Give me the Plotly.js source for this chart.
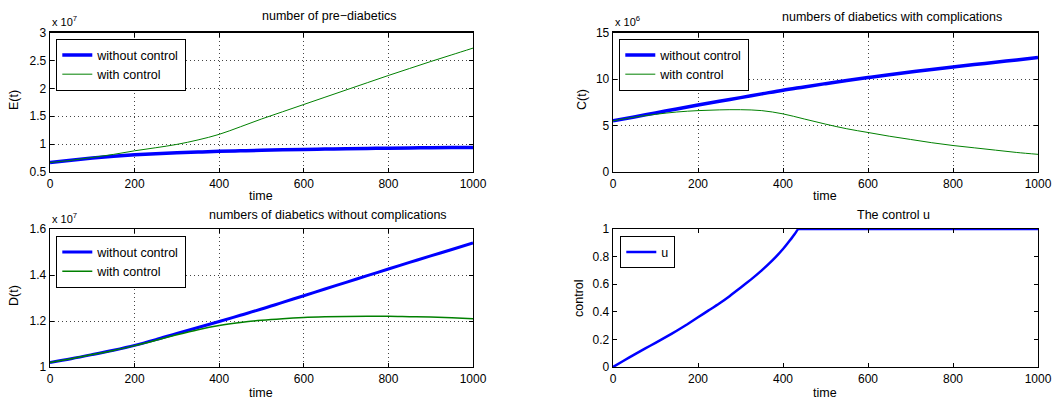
<!DOCTYPE html>
<html>
<head>
<meta charset="utf-8">
<script src="https://cdn.plot.ly/plotly-3.0.1.min.js"></script>
<style>html,body{margin:0;padding:0;background:#fff;}#plot{width:1057px;height:403px;}</style>
</head>
<body>
<div id="plot"></div>
<script>
// time grid (every 50)
const t = [0, 50, 100, 150, 200, 250, 300, 350, 400, 450, 500, 550, 600, 650, 700, 750, 800, 850, 900, 950, 1000];
// number of pre-diabetics E(t)
const E_without = [6.7e6, 7.12e6, 7.5e6, 7.82e6, 8.08e6, 8.29e6, 8.45e6, 8.58e6, 8.7e6, 8.8e6, 8.9e6, 8.98e6, 9.05e6, 9.11e6, 9.17e6, 9.22e6, 9.27e6, 9.31e6, 9.35e6, 9.38e6, 9.4e6];
const E_with    = [6.7e6, 7.1e6, 7.6e6, 8.15e6, 8.8e6, 9.35e6, 9.95e6, 10.75e6, 11.75e6, 13.1e6, 14.5e6, 15.8e6, 17.1e6, 18.4e6, 19.7e6, 21.0e6, 22.3e6, 23.55e6, 24.8e6, 26.0e6, 27.2e6];
// diabetics with complications C(t)
const C_without = [5.5e6, 5.92e6, 6.35e6, 6.78e6, 7.2e6, 7.6e6, 8.0e6, 8.4e6, 8.8e6, 9.15e6, 9.5e6, 9.83e6, 10.15e6, 10.45e6, 10.75e6, 11.03e6, 11.3e6, 11.55e6, 11.8e6, 12.05e6, 12.3e6];
const C_with    = [5.5e6, 5.9e6, 6.2e6, 6.45e6, 6.6e6, 6.68e6, 6.7e6, 6.6e6, 6.25e6, 5.7e6, 5.15e6, 4.65e6, 4.25e6, 3.85e6, 3.5e6, 3.15e6, 2.85e6, 2.6e6, 2.35e6, 2.1e6, 1.9e6];
// diabetics without complications D(t)
const D_without = [1.02e7, 1.036e7, 1.054e7, 1.073e7, 1.094e7, 1.119e7, 1.146e7, 1.172e7, 1.198e7, 1.225e7, 1.252e7, 1.281e7, 1.31e7, 1.339e7, 1.368e7, 1.397e7, 1.426e7, 1.455e7, 1.483e7, 1.511e7, 1.539e7];
const D_with    = [1.02e7, 1.036e7, 1.054e7, 1.072e7, 1.093e7, 1.116e7, 1.14e7, 1.162e7, 1.18e7, 1.193e7, 1.203e7, 1.21e7, 1.215e7, 1.218e7, 1.22e7, 1.221e7, 1.221e7, 1.219e7, 1.217e7, 1.214e7, 1.21e7];
// control u(t)
const tu = [0, 25, 50, 75, 100, 125, 150, 175, 200, 225, 250, 275, 300, 325, 350, 375, 400, 410, 420, 428, 436, 440, 500, 600, 700, 800, 900, 1000];
const u  = [0, 0.045, 0.09, 0.133, 0.175, 0.218, 0.263, 0.31, 0.36, 0.41, 0.46, 0.515, 0.575, 0.635, 0.7, 0.772, 0.855, 0.893, 0.932, 0.965, 1, 1, 1, 1, 1, 1, 1, 1];

// tick labels
const xTicks = [0, 200, 400, 600, 800, 1000];
const E_ticks = [0.5e7, 1e7, 1.5e7, 2e7, 2.5e7, 3e7];
const E_tickText = ['0.5', '1', '1.5', '2', '2.5', '3'];
const C_ticks = [0, 5e6, 10e6, 15e6];
const C_tickText = ['0', '5', '10', '15'];
const D_ticks = [1e7, 1.2e7, 1.4e7, 1.6e7];
const D_tickText = ['1', '1.2', '1.4', '1.6'];
const u_ticks = [0, 0.2, 0.4, 0.6, 0.8, 1];
const u_tickText = ['0', '0.2', '0.4', '0.6', '0.8', '1'];

const BLUE = '#0000ff', GREEN = '#008000';
const FONT = 'Liberation Sans, Arial, Helvetica, sans-serif';

function tr(x, y, name, color, w, xa, ya, leg, sm) {
  return {x: x, y: y, name: name, type: 'scatter', mode: 'lines',
    line: {color: color, width: w, shape: 'spline', smoothing: sm || 1},
    xaxis: xa, yaxis: ya, legend: leg};
}
const data = [
  tr(t, E_without, 'without control', BLUE, 3.5, 'x', 'y', 'legend'),
  tr(t, E_with, 'with control', GREEN, 1, 'x', 'y', 'legend'),
  tr(t, C_without, 'without control', BLUE, 3.5, 'x2', 'y2', 'legend2'),
  tr(t, C_with, 'with control', GREEN, 1, 'x2', 'y2', 'legend2'),
  tr(t, D_without, 'without control', BLUE, 3, 'x3', 'y3', 'legend3'),
  tr(t, D_with, 'with control', GREEN, 1.5, 'x3', 'y3', 'legend3'),
  tr(tu, u, 'u', BLUE, 2.5, 'x4', 'y4', 'legend4', 0.4)
];

const W = 1057, H = 403;
const dxL = [50 / W, 473 / W], dxR = [613 / W, 1038 / W];
const dyT = [1 - 172 / H, 1 - 32.5 / H], dyB = [1 - 367 / H, 1 - 229 / H];

function xax(dom, anchor, grid) {
  return {domain: dom, anchor: anchor, range: [0, 1000], tickvals: xTicks, ticktext: xTicks.map(String),
    showline: true, linecolor: '#000', linewidth: 1.3, mirror: 'ticks', ticks: 'inside', ticklen: 4,
    tickcolor: '#000', showgrid: grid, gridcolor: '#444', griddash: '1px,3px', gridwidth: 1,
    zeroline: false, tickfont: {size: 12, color: '#000', family: FONT}, fixedrange: true};
}
function yax(dom, anchor, range, tv, tt, grid) {
  return {domain: dom, anchor: anchor, range: range, tickvals: tv, ticktext: tt,
    showline: true, linecolor: '#000', linewidth: 1.3, mirror: 'ticks', ticks: 'inside', ticklen: 4,
    tickcolor: '#000', showgrid: grid, gridcolor: '#444', griddash: '1px,3px', gridwidth: 1,
    zeroline: false, tickfont: {size: 12, color: '#000', family: FONT}, fixedrange: true};
}
function legendAt(px, py) {
  return {x: px / W, y: 1 - py / H, xanchor: 'left', yanchor: 'top', bgcolor: '#fff',
    bordercolor: '#000', borderwidth: 1.3, font: {size: 12.5, color: '#000', family: FONT},
    tracegroupgap: 0, itemwidth: 30};
}
function ann(text, px, py, opts) {
  return Object.assign({text: text, x: px / W, y: 1 - py / H, xref: 'paper', yref: 'paper',
    xanchor: 'center', yanchor: 'middle',
    showarrow: false, font: {size: 12.5, color: '#000', family: FONT}}, opts || {});
}
const smallFont = {size: 11, color: '#000', family: FONT};

const annotations = [
  ann('number of pre\u2212diabetics', 329, 16),
  ann('numbers of diabetics with complications', 892, 17),
  ann('numbers of diabetics without complications', 328, 215),
  ann('The control u', 893, 215),
  ann('x 10<sup>7</sup>', 50, 21, {xanchor: 'left', font: smallFont}),
  ann('x 10<sup>6</sup>', 613, 21, {xanchor: 'left', font: smallFont}),
  ann('x 10<sup>7</sup>', 50, 218, {xanchor: 'left', font: smallFont}),
  ann('E(t)', 14, 100, {textangle: -90}),
  ann('C(t)', 582, 100, {textangle: -90}),
  ann('D(t)', 14, 296, {textangle: -90}),
  ann('control', 579, 298, {textangle: -90}),
  ann('time', 261, 196),
  ann('time', 825, 196),
  ann('time', 261, 393),
  ann('time', 825, 393)
];

const layout = {
  width: W, height: H, margin: {l: 0, r: 0, t: 0, b: 0},
  paper_bgcolor: '#fff', plot_bgcolor: '#fff',
  font: {family: FONT, color: '#000'},
  xaxis: xax(dxL, 'y', true), yaxis: yax(dyT, 'x', [0.5e7, 3e7], E_ticks, E_tickText, true),
  xaxis2: xax(dxR, 'y2', true), yaxis2: yax(dyT, 'x2', [0, 15e6], C_ticks, C_tickText, true),
  xaxis3: xax(dxL, 'y3', true), yaxis3: yax(dyB, 'x3', [1e7, 1.6e7], D_ticks, D_tickText, true),
  xaxis4: xax(dxR, 'y4', false), yaxis4: yax(dyB, 'x4', [0, 1], u_ticks, u_tickText, false),
  legend: legendAt(56, 39), legend2: legendAt(619, 39), legend3: legendAt(56, 236), legend4: legendAt(620, 236),
  annotations: annotations, showlegend: true
};
Plotly.newPlot('plot', data, layout, {displayModeBar: false, staticPlot: true});
</script>
</body>
</html>
